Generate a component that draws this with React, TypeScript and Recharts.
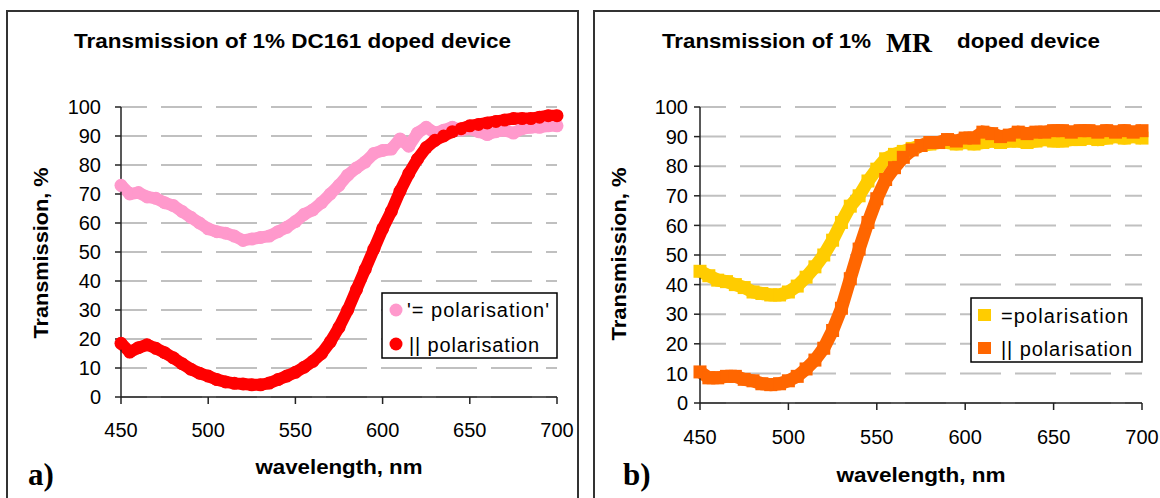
import React from "react";
import { LineChart, Line, XAxis, YAxis, CartesianGrid, Legend } from "recharts";

// wavelength, nm (x values shared by all four series)
const WAVELENGTH = [
  450, 455, 460, 465, 470, 475, 480, 485, 490, 495, 500, 505, 510, 515, 520, 525, 530,
  535, 540, 545, 550, 555, 560, 565, 570, 575, 580, 585, 590, 595, 600, 605, 610, 615,
  620, 625, 630, 635, 640, 645, 650, 655, 660, 665, 670, 675, 680, 685, 690, 695, 700,
];

// a) DC161 doped device, transmission %
const DC_PERP = [
  73, 70, 70.5, 69, 68.5, 67, 66, 64, 62, 60, 58, 57, 56.5, 55.5, 54, 54.5, 55,
  55.5, 57, 58.5, 60.5, 63, 64.5, 67, 70, 73, 76.5, 79, 81, 84, 85, 85.5, 89, 86.5,
  91, 93, 91, 92, 93, 92, 92.5, 91.5, 90.5, 91.5, 92, 91, 92.5, 93, 93, 93.5, 93.5,
];
const DC_PAR = [
  18.5, 15.5, 17, 18, 16.8, 15.3, 13.5, 11.5, 9.6, 8.2, 7.2, 6, 5.2, 4.7, 4.5, 4.2, 4.2,
  4.8, 6, 7.2, 8.5, 10.3, 12.3, 15, 19, 24, 30, 37, 44, 51, 58, 64, 71, 77,
  82, 86, 88.5, 90, 91.5, 92.5, 93.5, 94, 94.5, 95, 95.5, 96, 96, 96, 96.5, 97, 97,
];

// b) MR doped device, transmission %
const MR_PERP = [
  44.5, 43, 41.5, 41, 40, 39, 37.5, 37, 36.5, 36.5, 37.5, 39.5, 42.5, 46, 50, 55, 61,
  66.5, 70, 75, 79, 82.5, 84, 85, 86, 87, 87.5, 88, 88, 87.5, 88, 87.5, 88, 88.5,
  88, 88.5, 88.5, 88, 88.5, 89, 88.5, 88.5, 89, 89, 89.5, 89, 89.5, 90, 89.5, 90, 89.5,
];
const MR_PAR = [
  10.5, 8.5, 8.5, 9, 9, 8, 7.5, 6.5, 6.2, 6.5, 7.5, 9, 11.5, 14.5, 18.5, 24.5, 32,
  42, 52, 61, 69, 75.5, 79.5, 83, 85.5, 87, 88, 88, 89, 88.5, 89.5, 89.5, 91.5, 91,
  90, 90.5, 91.5, 91, 91.5, 91.5, 92, 92, 91.5, 92, 92, 91.5, 92, 91.5, 92, 91.5, 92,
];

const X_TICKS = [450, 500, 550, 600, 650, 700];
const Y_TICKS = [0, 10, 20, 30, 40, 50, 60, 70, 80, 90, 100];

const dcData = WAVELENGTH.map((w, i) => ({ w, perp: DC_PERP[i], par: DC_PAR[i] }));
const mrData = WAVELENGTH.map((w, i) => ({ w, perp: MR_PERP[i], par: MR_PAR[i] }));

const SANS = "'Liberation Sans', Arial, sans-serif";
const SERIF = "'Liberation Serif', 'Times New Roman', serif";
const tickStyle = { fontSize: 20, fill: "#000", fontFamily: SANS };
const axisLine = { stroke: "#222", strokeWidth: 1.5 };

function SquareDot(props: any) {
  const { cx, cy, fill } = props;
  if (cx == null || cy == null) return null;
  return <rect x={cx - 6.5} y={cy - 6.5} width={13} height={13} fill={fill} />;
}

function DcLegend() {
  return (
    <svg width={178} height={68}>
      <rect x={1} y={1} width={175} height={65} fill="#fff" stroke="#000" strokeWidth={1.5} />
      <circle cx={15} cy={18} r={6.5} fill="#ff99cc" />
      <text x={26} y={25} fontSize={20} fontFamily={SANS} textLength={142}>'= polarisation'</text>
      <circle cx={15} cy={52} r={6.5} fill="#ff0000" />
      <text x={28} y={60} fontSize={20} fontFamily={SANS} textLength={130}>|| polarisation</text>
    </svg>
  );
}

function MrLegend() {
  return (
    <svg width={174} height={68}>
      <rect x={1} y={1} width={171} height={64} fill="#fff" stroke="#000" strokeWidth={1.5} />
      <rect x={8} y={12} width={13} height={12} fill="#ffcc00" />
      <text x={31} y={26} fontSize={20} fontFamily={SANS} textLength={127}>=polarisation</text>
      <rect x={8} y={45} width={13} height={12} fill="#ff6600" />
      <text x={31} y={59} fontSize={20} fontFamily={SANS} textLength={131}>|| polarisation</text>
    </svg>
  );
}

export default function App() {
  return (
    <div style={{ position: "relative", width: 1160, height: 498, background: "#fff", overflow: "hidden" }}>
      <style>{"body{margin:0}"}</style>

      {/* a) */}
      <div style={{ position: "absolute", left: 0, top: 0 }}>
        <LineChart width={580} height={498} data={dcData} margin={{ top: 107, right: 23, bottom: 61, left: 71 }}>
          <CartesianGrid vertical={false} stroke="#c0c0c0" strokeWidth={2} strokeDasharray="41 14" strokeDashoffset={15} />
          <XAxis
            dataKey="w"
            type="number"
            domain={[450, 700]}
            ticks={X_TICKS}
            height={40}
            tick={tickStyle}
            axisLine={axisLine}
            tickLine={axisLine}
            tickSize={7}
            tickMargin={19}
          />
          <YAxis
            type="number"
            domain={[0, 100]}
            ticks={Y_TICKS}
            width={50}
            tick={tickStyle}
            axisLine={axisLine}
            tickLine={axisLine}
            tickSize={6}
            tickMargin={14}
            interval={0}
          />
          <Legend
            layout="vertical"
            align="center"
            verticalAlign="middle"
            wrapperStyle={{ left: 381, top: 292, width: 178, height: 68 }}
            content={() => <DcLegend />}
          />
          <Line
            dataKey="perp"
            name="'= polarisation'"
            type="linear"
            stroke="#ff99cc"
            strokeWidth={12}
            strokeLinejoin="round"
            dot={{ r: 6.5, fill: "#ff99cc", stroke: "none" }}
            isAnimationActive={false}
          />
          <Line
            dataKey="par"
            name="|| polarisation"
            type="linear"
            stroke="#ff0000"
            strokeWidth={12}
            strokeLinejoin="round"
            dot={{ r: 6.5, fill: "#ff0000", stroke: "none" }}
            isAnimationActive={false}
          />
        </LineChart>
      </div>

      {/* b) */}
      <div style={{ position: "absolute", left: 590, top: 0 }}>
        <LineChart width={570} height={498} data={mrData} margin={{ top: 107, right: 18, bottom: 55, left: 50 }}>
          <CartesianGrid vertical={false} stroke="#c0c0c0" strokeWidth={2} strokeDasharray="41 14" strokeDashoffset={15} />
          <XAxis
            dataKey="w"
            type="number"
            domain={[450, 700]}
            ticks={X_TICKS}
            height={40}
            tick={tickStyle}
            axisLine={axisLine}
            tickLine={axisLine}
            tickSize={7}
            tickMargin={20}
          />
          <YAxis
            type="number"
            domain={[0, 100]}
            ticks={Y_TICKS}
            width={60}
            tick={tickStyle}
            axisLine={axisLine}
            tickLine={axisLine}
            tickSize={6}
            tickMargin={6}
            interval={0}
          />
          <Legend
            layout="vertical"
            align="center"
            verticalAlign="middle"
            wrapperStyle={{ left: 380, top: 297, width: 174, height: 68 }}
            content={() => <MrLegend />}
          />
          <Line
            dataKey="perp"
            name="=polarisation"
            type="linear"
            stroke="#ffcc00"
            strokeWidth={13}
            strokeLinejoin="miter"
            dot={<SquareDot fill="#ffcc00" />}
            isAnimationActive={false}
          />
          <Line
            dataKey="par"
            name="|| polarisation"
            type="linear"
            stroke="#ff6600"
            strokeWidth={13}
            strokeLinejoin="miter"
            dot={<SquareDot fill="#ff6600" />}
            isAnimationActive={false}
          />
        </LineChart>
      </div>

      {/* frames, titles, axis titles */}
      <svg width={1160} height={498} style={{ position: "absolute", left: 0, top: 0, pointerEvents: "none" }}>
        <path d="M7,498 V11 H578 V498" fill="none" stroke="#333" strokeWidth={2} />
        <path d="M594,498 V11 H1162" fill="none" stroke="#333" strokeWidth={2} />

        <g fontFamily={SANS} fontWeight="bold" fontSize={21} fill="#000">
          <text x={74} y={48} textLength={437} lengthAdjust="spacingAndGlyphs">
            Transmission of 1% DC161 doped device
          </text>
          <text x={662} y={48} textLength={209} lengthAdjust="spacingAndGlyphs">
            Transmission of 1%
          </text>
          <text x={957} y={48} textLength={143} lengthAdjust="spacingAndGlyphs">
            doped device
          </text>

          <text x={339} y={474} textAnchor="middle" textLength={167} lengthAdjust="spacingAndGlyphs">
            wavelength, nm
          </text>
          <text x={921} y={482} textAnchor="middle" textLength={169} lengthAdjust="spacingAndGlyphs">
            wavelength, nm
          </text>

          <text
            x={0}
            y={0}
            transform="translate(48,253) rotate(-90)"
            textAnchor="middle"
            textLength={171}
            lengthAdjust="spacingAndGlyphs"
          >
            Transmission, %
          </text>
          <text
            x={0}
            y={0}
            transform="translate(626,254) rotate(-90)"
            textAnchor="middle"
            textLength={173}
            lengthAdjust="spacingAndGlyphs"
          >
            Transmission, %
          </text>
        </g>

        <g fontFamily={SERIF} fontWeight="bold" fill="#000">
          <text x={886} y={52} fontSize={28} textLength={46} lengthAdjust="spacingAndGlyphs">MR</text>
          <text x={28} y={485} fontSize={31}>a)</text>
          <text x={623} y={485} fontSize={31}>b)</text>
        </g>
      </svg>
    </div>
  );
}
